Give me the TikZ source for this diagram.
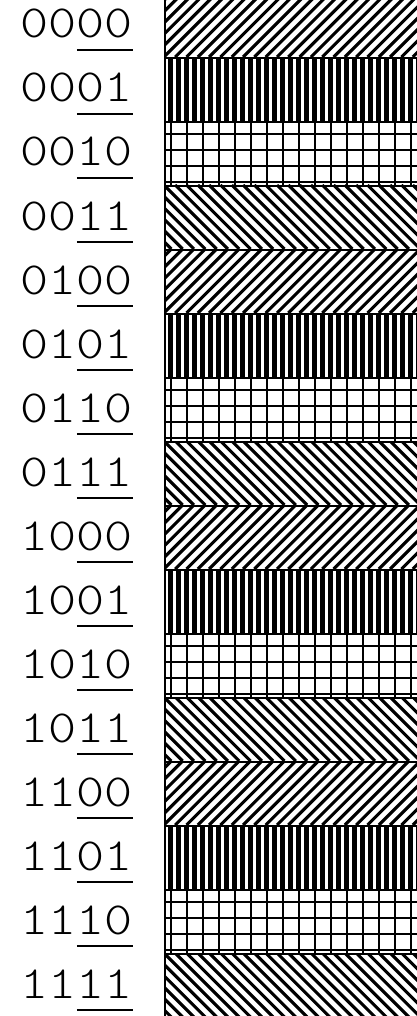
\documentclass[tikz,border=0pt]{standalone}
\usepackage{fontspec}
\usepackage{graphicx}
\newfontfamily\lblfont{Latin Modern Mono Light}
\tikzset{
  cell/.style={draw=black, line width=2pt, inner sep=0pt, anchor=north west,
    minimum width=290pt, minimum height=64pt},
  hl/.style={line width=3.1pt},
  vl/.style={line width=4.2pt},
  gl/.style={line width=2pt},
  lbl/.style={inner sep=0pt, anchor=base east, font=\lblfont\fontsize{46}{46}\selectfont},
}
\newcommand\ulast[1]{\setbox0\hbox{#1}\rlap{\rule[-13pt]{\wd0}{1.6pt}}\box0}
\newcommand\patNE{\foreach \s in {0,...,30}{\draw[hl] (96+\s*11.314,\bot) -- ++(64,64);}}
\newcommand\patNW{\foreach \s in {0,...,30}{\draw[hl] (96+\s*11.314,\top) -- ++(64,-64);}}
\newcommand\patV{\foreach \s in {-1,...,32}{\draw[vl] (170.5+\s*8,\top) -- (170.5+\s*8,\bot);}}
\newcommand\patG{\foreach \s in {0,...,16}{\draw[gl] (170.5+\s*16,\top) -- (170.5+\s*16,\bot);}
  \foreach \j in {0,...,3}{\draw[gl] (164,\top-13-16*\j) -- (420,\top-13-16*\j);}}
\begin{document}
\begin{tikzpicture}[x=1pt,y=1pt]
\useasboundingbox (0,0) rectangle (417,-1016);
\clip (0,0) rectangle (417,-1016);
\foreach \a/\b/\p [count=\i from 0] in {00/00/NE,00/01/V,00/10/G,00/11/NW,
  01/00/NE,01/01/V,01/10/G,01/11/NW,
  10/00/NE,10/01/V,10/10/G,10/11/NW,
  11/00/NE,11/01/V,11/10/G,11/11/NW}{
  \pgfmathsetmacro\top{7-64*\i}
  \pgfmathsetmacro\bot{-57-64*\i}
  \begin{scope}
    \clip (164,\top) rectangle (430,\bot);
    \csname pat\p\endcsname
  \end{scope}
  \node[cell] (r\i) at (164,\top) {};
  \node[lbl] (l\i) at (133,-38-64*\i) {\scalebox{1.16}[1]{\a\ulast{\b}}};
}
\end{tikzpicture}
\end{document}
